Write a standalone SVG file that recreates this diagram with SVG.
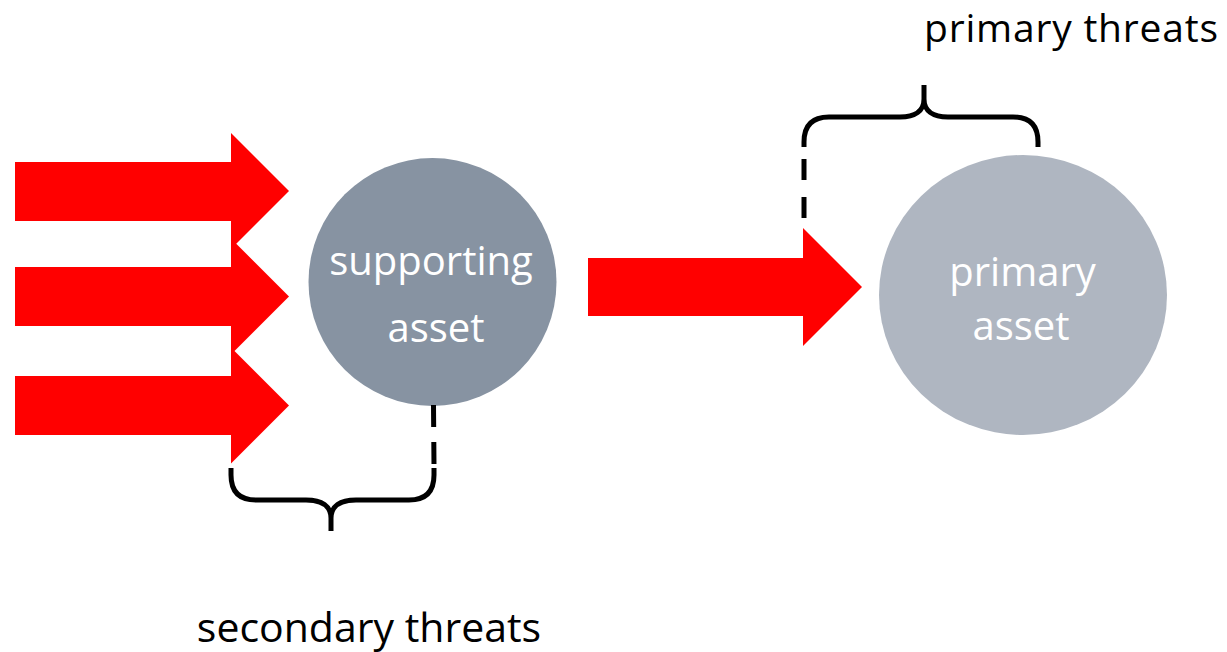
<svg xmlns="http://www.w3.org/2000/svg" width="1227" height="652" viewBox="0 0 1227 652">
  <style>
    .threat { fill: #ff0000; }
    .brace { fill: none; stroke: #000000; stroke-width: 5; stroke-linecap: butt; stroke-linejoin: round; }
    .dash { fill: none; stroke: #000000; stroke-width: 5; }
    .inner { font-family: "Open Sans", "Liberation Sans", sans-serif; font-size: 40px; fill: #ffffff; text-anchor: middle; }
    .label { font-family: "Open Sans", "Liberation Sans", sans-serif; font-size: 41px; fill: #000000; text-anchor: middle; }
  </style>
  <rect width="1227" height="652" fill="#ffffff"/>

  <!-- incoming secondary threats -->
  <g id="secondary-threat-arrows">
    <polygon class="threat" points="15,162 231,162 231,133 289,191 231,249 231,221 15,221"/>
    <polygon class="threat" points="15,267 231,267 231,238.5 289,296.5 231,354.5 231,326 15,326"/>
    <polygon class="threat" points="15,376 231,376 231,347.5 289,405.5 231,463.5 231,435 15,435"/>
  </g>

  <!-- supporting asset node -->
  <g id="supporting-asset">
    <circle cx="432.5" cy="282" r="124" fill="#8793a2"/>
    <text class="inner" x="431" y="275">supporting</text>
    <text class="inner" x="436" y="342">asset</text>
  </g>

  <!-- primary asset node -->
  <g id="primary-asset">
    <ellipse cx="1023" cy="295" rx="144" ry="140" fill="#afb6c1"/>
    <text class="inner" x="1022.5" y="286">primary</text>
    <text class="inner" x="1021" y="340">asset</text>
  </g>

  <!-- connectors: threat arrow, braces and dashed leaders -->
  <g id="connectors">
    <polygon class="threat" points="588,258 803,258 803,228 862,287 803,346 803,316 588,316"/>

    <path class="brace" d="M231,468 L231,475 Q231,500 256,500 L306,500 C322,500 331,506 331,518 L331,531 M331,518 C331,506 340,500 356,500 L409,500 Q434,500 434,475 L434,468"/>
    <line class="dash" x1="433.5" y1="405" x2="434" y2="465" stroke-dasharray="22 15"/>

    <path class="brace" d="M804,147 L804,142 Q804,117 829,117 L900,117 C915,117 924,111 924,99 L924,85 M924,99 C924,111 933,117 948,117 L1013,117 Q1038,117 1038,142 L1038,147"/>
    <line class="dash" x1="804" y1="159" x2="804" y2="219" stroke-dasharray="21 17"/>
  </g>

  <!-- captions -->
  <g id="labels">
    <text class="label" x="924" y="42" style="font-size:39px;text-anchor:start" textLength="294" lengthAdjust="spacing">primary threats</text>
    <text class="label" x="369" y="642">secondary threats</text>
  </g>
</svg>
